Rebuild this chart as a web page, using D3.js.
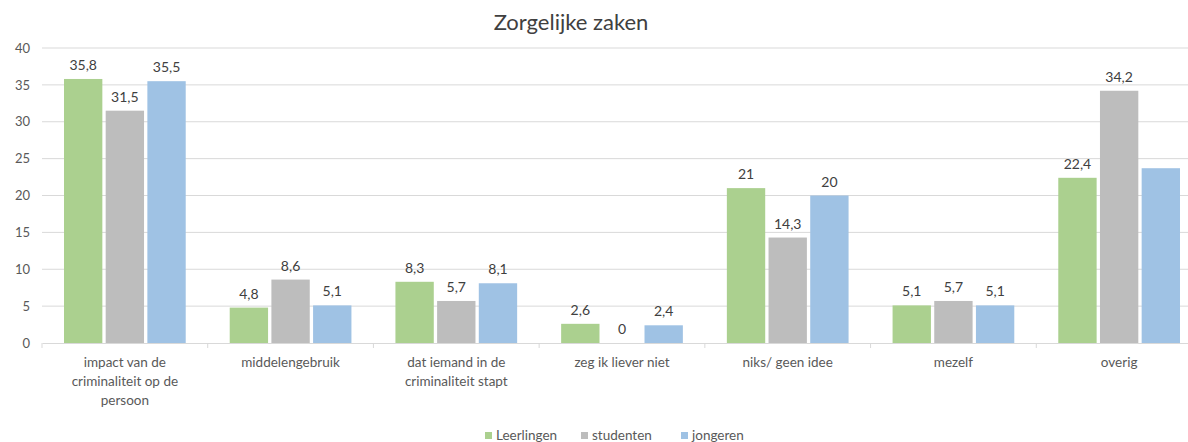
<!DOCTYPE html>
<html>
<head>
<meta charset="utf-8">
<script src="https://cdn.jsdelivr.net/npm/d3@7"></script>
<style>
  body { margin: 0; background: #fff; }
  svg text { font-family: Lato, "Open Sans", sans-serif; }
</style>
</head>
<body>
<div id="chart"></div>
<script>
// data
const categories = ['impact van de criminaliteit op de persoon', 'middelengebruik', 'dat iemand in de criminaliteit stapt',
  'zeg ik liever niet', 'niks/ geen idee', 'mezelf', 'overig'];
const seriesNames = ['Leerlingen', 'studenten', 'jongeren'];
const leerlingen = [35.8, 4.8, 8.3, 2.6, 21, 5.1, 22.4];
const studenten = [31.5, 8.6, 5.7, 0, 14.3, 5.7, 34.2];
const jongeren = [35.5, 5.1, 8.1, 2.4, 20, 5.1, 23.7];
// the last jongeren bar has no label in the original
const showLabel = [[1,1,1,1,1,1,1],[1,1,1,1,1,1,1],[1,1,1,1,1,1,0]];
const yTicks = [0, 5, 10, 15, 20, 25, 30, 35, 40];
const colors = ['#ABD08F', '#BDBDBD', '#9FC2E4'];

const width = 1188, height = 442;
const margin = {top: 48, right: -14, bottom: 99, left: 42};

const svg = d3.select('#chart').append('svg')
  .attr('width', width).attr('height', height);

const x = d3.scaleBand().domain(categories)
  .range([margin.left, width - margin.right]);
const xs = d3.scaleBand().domain(seriesNames)
  .range([22, x.bandwidth() - 22]).paddingInner(0.08);
const y = d3.scaleLinear().domain([0, 40]).range([height - margin.bottom, margin.top]);

// title
svg.append('text').attr('x', 571).attr('y', 30)
  .attr('text-anchor', 'middle').attr('font-size', 22).attr('fill', '#404040')
  .text('Zorgelijke zaken');

// gridlines
svg.append('g').selectAll('line').data(yTicks.slice(1)).join('line')
  .attr('x1', margin.left).attr('x2', width)
  .attr('y1', d => y(d)).attr('y2', d => y(d))
  .attr('stroke', '#D9D9D9').attr('stroke-width', 1);

// y axis labels
const yAxis = svg.append('g').attr('transform', `translate(${margin.left},0)`)
  .call(d3.axisLeft(y).tickValues(yTicks).tickSize(0).tickPadding(12));
yAxis.select('.domain').remove();
yAxis.selectAll('text').attr('font-size', 13).attr('fill', '#595959')
  .style('font-family', 'Lato, "Open Sans", sans-serif');

// bars
const data = [leerlingen, studenten, jongeren];
const groups = svg.append('g').selectAll('g').data(categories).join('g')
  .attr('transform', d => `translate(${x(d)},0)`);

groups.selectAll('rect').data((c, i) => data.map((s, j) => ({s: seriesNames[j], v: s[i], j})))
  .join('rect')
  .attr('x', d => xs(d.s)).attr('width', xs.bandwidth())
  .attr('y', d => y(d.v)).attr('height', d => y(0) - y(d.v))
  .attr('fill', d => colors[d.j]);

groups.selectAll('text.lbl').data((c, i) => data.map((s, j) => ({s: seriesNames[j], v: s[i], j, i})))
  .join('text').attr('class', 'lbl')
  .filter(d => showLabel[d.j][d.i])
  .attr('x', d => xs(d.s) + xs.bandwidth() / 2)
  .attr('y', d => y(d.v) - 9)
  .attr('text-anchor', 'middle').attr('font-size', 14).attr('fill', '#404040')
  .text(d => String(d.v).replace('.', ','));

// x axis
const xAxis = svg.append('g').attr('transform', `translate(0,${y(0)})`)
  .call(d3.axisBottom(x).tickSize(0).tickPadding(0));
xAxis.select('.domain').attr('stroke', '#D9D9D9');
xAxis.selectAll('.tick text').remove();
// tick marks between categories
svg.append('g').selectAll('line').data(categories).join('line')
  .attr('x1', d => x(d)).attr('x2', d => x(d))
  .attr('y1', y(0)).attr('y2', y(0) + 5)
  .attr('stroke', '#D9D9D9');

// wrapped category labels
function wrap(text, maxWidth) {
  const words = text.split(' ');
  const lines = [];
  let line = '';
  const probe = svg.append('text').attr('font-size', 13.5);
  words.forEach(w => {
    const t = line ? line + ' ' + w : w;
    probe.text(t);
    if (probe.node().getComputedTextLength() > maxWidth && line) {
      lines.push(line);
      line = w;
    } else line = t;
  });
  lines.push(line);
  probe.remove();
  return lines;
}
categories.forEach(c => {
  const t = svg.append('text').attr('text-anchor', 'middle').attr('font-size', 13.5).attr('fill', '#595959');
  wrap(c, 128).forEach((l, k) => {
    t.append('tspan').attr('x', x(c) + x.bandwidth() / 2).attr('y', 367 + k * 19).text(l);
  });
});

// legend
const legendX = [485, 581, 681];
const legend = svg.append('g');
seriesNames.forEach((n, i) => {
  legend.append('rect').attr('x', legendX[i]).attr('y', 432).attr('width', 7).attr('height', 7).attr('fill', colors[i]);
  legend.append('text').attr('x', legendX[i] + 11).attr('y', 440).attr('font-size', 13.5).attr('fill', '#595959').text(n);
});
</script>
</body>
</html>
